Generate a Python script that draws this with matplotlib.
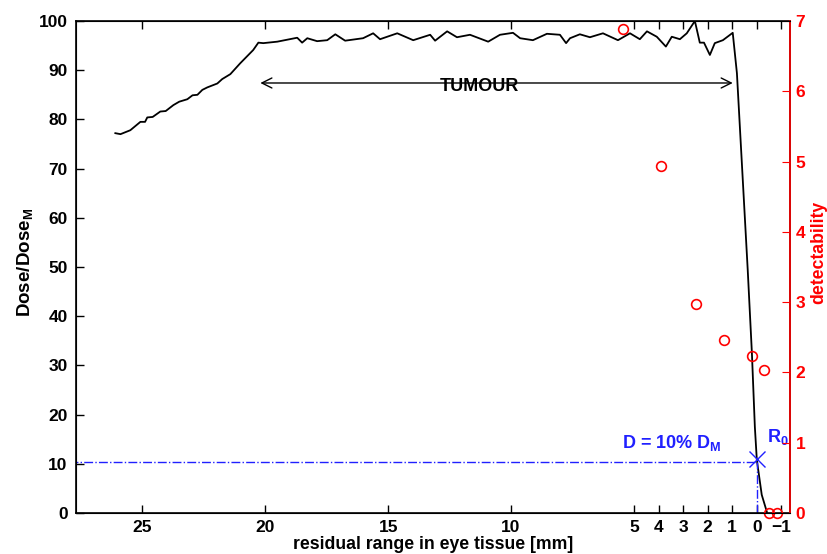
import numpy as np
import matplotlib
matplotlib.use('Agg')
import matplotlib.pyplot as plt

plt.rcParams['font.family'] = 'Liberation Sans'
plt.rcParams['font.weight'] = 'bold'
plt.rcParams['mathtext.fontset'] = 'custom'
plt.rcParams['mathtext.rm'] = 'Liberation Sans:bold'
plt.rcParams['mathtext.bf'] = 'Liberation Sans:bold'
plt.rcParams['mathtext.it'] = 'Liberation Sans:bold'
plt.rcParams['mathtext.default'] = 'rm'

# dose profile (residual range [mm], dose [% of max])
range_mm = [26.10, 25.89, 25.49, 25.08, 24.89, 24.80, 24.58, 24.27, 24.05, 23.74,
            23.50, 23.17, 22.96, 22.76, 22.56, 22.36, 21.95, 21.75, 21.42, 21.02,
            20.49, 20.28, 20.08, 19.51, 18.70, 18.50,
            18.29, 17.89, 17.48, 17.15, 16.75, 16.02, 15.61, 15.33, 14.63, 13.98,
            13.29, 13.09, 12.60, 12.20, 11.67, 10.93, 10.45, 9.92, 9.63, 9.11,
            8.54, 8.01, 7.76, 7.60, 7.20, 6.79, 6.26, 5.65, 5.16, 4.76,
            4.47, 4.07, 3.70, 3.46, 3.13, 2.85, 2.52, 2.32, 2.15, 1.91,
            1.71, 1.38, 1.22, 0.98, 0.81, 0.37, 0.20, 0.08, 0.0, -0.20, -0.41]
dose = [77.2, 77.0, 77.8, 79.5, 79.5, 80.4, 80.5, 81.6, 81.7, 82.9,
        83.6, 84.1, 84.9, 85.0, 86.0, 86.5, 87.3, 88.2, 89.2, 91.4,
        94.1, 95.6, 95.5, 95.8, 96.6, 95.6,
        96.5, 95.9, 96.1, 97.3, 96.0, 96.5, 97.5, 96.3, 97.5, 96.1,
        97.2, 96.0, 97.9, 96.7, 97.2, 95.8, 97.2, 97.6, 96.5, 96.1,
        97.4, 97.2, 95.5, 96.5, 97.3, 96.7, 97.5, 96.1, 97.5, 96.3,
        97.9, 96.8, 94.8, 96.8, 96.3, 97.5, 100.0, 95.6, 95.6, 93.1,
        95.5, 96.1, 96.7, 97.6, 89.4, 49.4, 32.5, 17.5, 10.8, 3.7, 0.2]

# detectability points
det_range = [5.45, 3.90, 2.48, 1.34, 0.20, -0.28, -0.49, -0.81]
det_value = [6.89, 4.94, 2.97, 2.46, 2.24, 2.04, 0.0, 0.0]

r0 = 0.0
d10 = 10.4
tumour_start = 20.2
tumour_end = 0.98

xticks = [25, 20, 15, 10, 5, 4, 3, 2, 1, 0, -1]
xticklabels = ['25', '20', '15', '10', '5', '4', '3', '2', '1', '0', '\u22121']

fig = plt.figure(figsize=(8.27, 5.54), dpi=100)
ax = fig.add_axes([76/827, 1-513/554, (790-76)/827, (513-21)/554])

ax.plot(range_mm, dose, color='black', lw=1.3)
ax.plot([28, r0], [d10, d10], color='#2020ff', lw=1, ls='-.')
ax.plot([r0, r0], [0, d10], color='#2020ff', lw=1, ls='-.')
ax.plot([r0], [d10 + 0.6], marker='x', color='#2020ff', ms=12, mew=1)

ax.annotate('', xy=(tumour_end, 87.4), xytext=(tumour_start, 87.4),
            arrowprops=dict(arrowstyle='<->', lw=1, color='black',
                            mutation_scale=18, shrinkA=0, shrinkB=0))
ax.text(11.3, 86.6, 'TUMOUR', ha='center', va='center', fontsize=13, fontweight='bold')
ax.text(5.5, 13.2, r'D = 10% D$_{\mathrm{M}}$', color='#2020ff', fontsize=13,
        fontweight='bold', ha='left', va='baseline')
ax.text(-0.4, 14.4, r'R$_{\mathrm{0}}$', color='#2020ff', fontsize=13,
        fontweight='bold', ha='left', va='baseline')

ax.set_xlim(27.7, -1.35)
ax.set_ylim(0, 100)
ax.set_xticks(xticks)
ax.set_xticklabels(xticklabels)
ax.set_yticks(range(0, 101, 10))
ax.tick_params(axis='both', direction='in', length=6, labelsize=12.5, width=1,
               top=True, right=True, pad=6)
ax.tick_params(axis='x', pad=5)
for lab in ax.get_xticklabels() + ax.get_yticklabels():
    lab.set_fontweight('bold')
for s in ax.spines.values():
    s.set_linewidth(1.2)
ax.set_xlabel('residual range in eye tissue [mm]', fontsize=12.7, fontweight='bold')
ax.xaxis.set_label_coords(0.5, -0.046)
ax.set_ylabel('Dose/Dose$_{\\mathrm{M}}$', fontsize=13.5, fontweight='bold')
ax.yaxis.set_label_coords(-0.058, 0.51)

ax2 = ax.twinx()
ax2.plot(det_range, det_value, ls='none', marker='o', mfc='none', mec='red',
         ms=7, mew=1.2, clip_on=False)
ax2.set_ylim(0, 7)
ax2.set_yticks(range(0, 8))
ax2.tick_params(axis='y', direction='in', length=6, colors='red', labelsize=12.5, pad=4)
for lab in ax2.get_yticklabels():
    lab.set_fontweight('bold')
ax2.spines['right'].set_color('red')
ax2.spines['right'].set_linewidth(1.2)
ax2.set_ylabel('detectability', color='red', fontsize=12.7, fontweight='bold')
ax2.yaxis.set_label_coords(1.029, 0.53)

fig.savefig('out.png', dpi=100)
